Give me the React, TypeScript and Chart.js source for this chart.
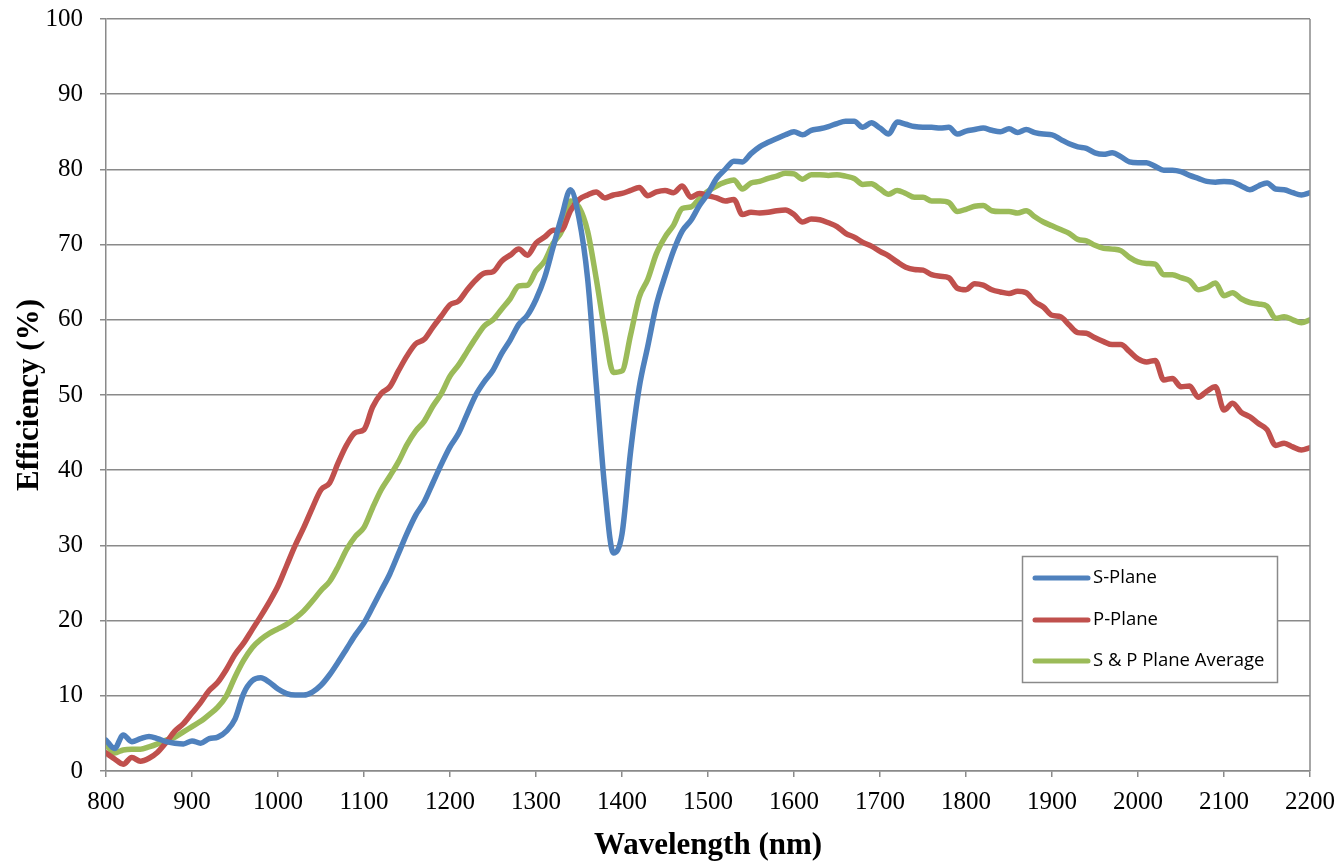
import React, { useEffect, useRef } from "react";
import { Chart, registerables } from "chart.js";

Chart.register(...registerables);

const wavelengths: number[] = [];
for (let w = 800; w <= 2200; w += 10) wavelengths.push(w);

const sPlane = [
  4.1, 3.0, 4.8, 3.9, 4.3, 4.6, 4.3, 3.9, 3.7, 3.6,
  4.0, 3.7, 4.3, 4.5, 5.3, 6.9, 10.3, 12.0, 12.4, 11.8,
  10.9, 10.3, 10.1, 10.1, 10.5, 11.4, 12.8, 14.5, 16.3, 18.1,
  19.7, 21.8, 24.0, 26.2, 28.9, 31.6, 34.0, 35.8, 38.3, 40.8,
  43.1, 44.9, 47.5, 50.0, 51.8, 53.3, 55.5, 57.3, 59.4, 60.6,
  62.7, 65.6, 69.7, 73.8, 77.3, 73.5, 65.5, 51.5, 37.5, 29.0,
  31.5, 42.5, 51.0, 56.5, 62.0, 65.8, 69.2, 71.8, 73.2, 75.2,
  76.8, 78.8, 80.0, 81.1, 81.0, 82.1, 83.0, 83.6, 84.1, 84.6,
  85.0, 84.6, 85.2, 85.4, 85.7, 86.1, 86.4, 86.4, 85.6, 86.2,
  85.5, 84.7, 86.3, 86.0, 85.7, 85.6, 85.6, 85.5, 85.6, 84.7,
  85.1, 85.3, 85.5, 85.2, 85.0, 85.4, 84.9, 85.3, 84.9, 84.7,
  84.6, 84.0, 83.4, 83.0, 82.8, 82.2, 82.0, 82.2, 81.7, 81.0,
  80.9, 80.9, 80.4, 79.9, 79.9, 79.7, 79.2, 78.8, 78.4, 78.3,
  78.4, 78.3, 77.8, 77.3, 77.8, 78.2, 77.4, 77.3, 76.9, 76.6,
  76.9,
];

const pPlane = [
  2.4, 1.6, 0.9, 1.8, 1.3, 1.7, 2.5, 3.8, 5.3, 6.3,
  7.7, 9.1, 10.7, 11.8, 13.5, 15.5, 17.0, 18.8, 20.6, 22.5,
  24.6, 27.3, 30.0, 32.4, 35.0, 37.4, 38.3, 41.0, 43.4, 45.0,
  45.4, 48.4, 50.2, 51.1, 53.2, 55.2, 56.8, 57.4, 59.0, 60.5,
  62.0, 62.5, 64.0, 65.3, 66.2, 66.4, 67.8, 68.6, 69.4, 68.6,
  70.2, 71.0, 71.9, 72.0, 74.5, 76.0, 76.6, 77.0, 76.2, 76.6,
  76.8, 77.2, 77.6, 76.5, 77.0, 77.2, 76.9, 77.8, 76.3, 76.8,
  76.5, 76.2, 75.8, 76.0, 74.0, 74.3, 74.2, 74.3, 74.5, 74.6,
  74.0, 73.0, 73.4, 73.3, 72.9, 72.4, 71.5, 71.0, 70.3, 69.8,
  69.1, 68.5, 67.7, 67.0, 66.7, 66.6, 66.0, 65.8, 65.6, 64.2,
  64.0, 64.8, 64.6, 64.0, 63.7, 63.5, 63.8, 63.6, 62.4, 61.7,
  60.6, 60.4, 59.3, 58.3, 58.2, 57.6, 57.1, 56.7, 56.7, 55.8,
  54.8, 54.4, 54.6, 52.0, 52.2, 51.1, 51.2, 49.7, 50.5, 51.1,
  48.0, 48.9, 47.7, 47.1, 46.2, 45.4, 43.3, 43.6, 43.1, 42.7,
  43.0,
];

const spAverage = [
  3.5, 2.4, 2.8, 2.9, 2.9, 3.2, 3.6, 4.1, 4.5, 5.2,
  5.9, 6.6, 7.5, 8.5, 10.0, 12.5, 14.7, 16.4, 17.5, 18.3,
  18.9, 19.5, 20.3, 21.3, 22.6, 24.0, 25.2, 27.2, 29.5, 31.2,
  32.4, 35.0, 37.4, 39.2, 41.1, 43.4, 45.2, 46.5, 48.5, 50.2,
  52.5, 54.0, 55.8, 57.6, 59.2, 60.0, 61.4, 62.8, 64.5, 64.6,
  66.5, 67.8, 70.2, 71.8, 75.8, 75.0, 71.8, 65.5, 58.5, 53.0,
  53.2, 58.0, 63.0, 65.4, 68.8, 71.0, 72.6, 74.8, 75.0, 76.1,
  77.1, 77.8, 78.3, 78.6, 77.4, 78.2, 78.4, 78.8, 79.1, 79.5,
  79.4, 78.7, 79.3, 79.3, 79.2, 79.3, 79.1, 78.8, 78.0, 78.1,
  77.4, 76.7, 77.2, 76.8, 76.3, 76.3, 75.8, 75.8, 75.6, 74.4,
  74.7, 75.1, 75.2, 74.5, 74.4, 74.4, 74.2, 74.5, 73.7, 73.0,
  72.5, 72.0, 71.5, 70.7, 70.5, 69.9, 69.5, 69.4, 69.2, 68.3,
  67.7, 67.5, 67.4, 66.0, 66.0, 65.6, 65.2, 64.0, 64.3, 64.9,
  63.2, 63.6, 62.8, 62.3, 62.1, 61.8, 60.2, 60.4, 60.0, 59.6,
  60.0,
];

const seriesNames = ["S-Plane", "P-Plane", "S & P Plane Average"];
const seriesColors = ["#4F81BD", "#C0504D", "#9BBB59"];

const GRID = "#8a8a8a";
const SERIF = "'Liberation Serif', 'Times New Roman', serif";
const SANS = "'Open Sans', 'Liberation Sans', sans-serif";

const frameAndLegend = {
  id: "frameAndLegend",
  afterDraw(chart: any) {
    const { ctx, chartArea } = chart;
    ctx.save();
    ctx.strokeStyle = GRID;
    ctx.lineWidth = 1.5;
    ctx.beginPath();
    ctx.moveTo(chartArea.right, chartArea.top);
    ctx.lineTo(chartArea.right, chartArea.bottom);
    ctx.stroke();

    // legend box
    const bx = 1022.5, by = 556.5, bw = 255, bh = 126;
    ctx.fillStyle = "#ffffff";
    ctx.fillRect(bx, by, bw, bh);
    ctx.strokeStyle = GRID;
    ctx.lineWidth = 1.5;
    ctx.strokeRect(bx, by, bw, bh);
    const rows = [578, 620, 661];
    ctx.font = `18.5px ${SANS}`;
    ctx.textBaseline = "middle";
    ctx.textAlign = "left";
    rows.forEach((y, i) => {
      ctx.strokeStyle = seriesColors[i];
      ctx.lineWidth = 5;
      ctx.lineCap = "round";
      ctx.beginPath();
      ctx.moveTo(1035, y);
      ctx.lineTo(1088, y);
      ctx.stroke();
      ctx.fillStyle = "#000000";
      ctx.fillText(seriesNames[i], 1093, y);
    });
    ctx.restore();
  },
};

export default function App() {
  const ref = useRef<HTMLCanvasElement | null>(null);
  useEffect(() => {
    if (!ref.current) return;
    const seriesData = [sPlane, pPlane, spAverage];
    const chart = new Chart(ref.current, {
      type: "line",
      data: {
        datasets: seriesData.map((arr, i) => ({
          label: seriesNames[i],
          data: wavelengths.map((w, j) => ({ x: w, y: arr[j] })),
          borderColor: seriesColors[i],
          backgroundColor: seriesColors[i],
          borderWidth: 5.5,
          pointRadius: 0,
          tension: 0.4,
          cubicInterpolationMode: "monotone" as const,
          fill: false,
          borderCapStyle: "round" as const,
          borderJoinStyle: "round" as const,
        })),
      },
      options: {
        animation: false,
        responsive: true,
        maintainAspectRatio: false,
        layout: { padding: { left: 0, right: 33, top: 19, bottom: 0 } },
        plugins: {
          legend: { display: false },
          tooltip: { enabled: false },
        },
        scales: {
          x: {
            type: "linear",
            min: 800,
            max: 2200,
            afterFit: (s: any) => {
              s.height = 94;
              s.paddingLeft = 0;
              s.paddingRight = 0;
            },
            ticks: {
              stepSize: 100,
              color: "#000",
              font: { family: SERIF, size: 25 },
              padding: 10,
              maxRotation: 0,
              autoSkip: false,
              callback: (v: any) => String(v),
            },
            grid: {
              drawOnChartArea: false,
              drawTicks: true,
              tickLength: 6,
              color: GRID,
              lineWidth: 1.5,
            },
            border: { color: GRID, width: 1.5 },
            title: {
              display: true,
              text: "Wavelength (nm)",
              color: "#000",
              font: { family: SERIF, size: 31, weight: "bold", lineHeight: 1.2 },
              padding: { top: 1, bottom: 0 },
            },
          },
          y: {
            min: 0,
            max: 100,
            afterFit: (s: any) => {
              s.width = 106;
              s.paddingTop = 0;
              s.paddingBottom = 0;
            },
            ticks: {
              stepSize: 10,
              color: "#000",
              font: { family: SERIF, size: 25 },
              padding: 17,
            },
            grid: {
              drawTicks: true,
              tickLength: 6,
              color: GRID,
              lineWidth: 1.5,
            },
            border: { color: GRID, width: 1.5 },
            title: {
              display: true,
              text: "Efficiency (%)",
              color: "#000",
              font: { family: SERIF, size: 31, weight: "bold", lineHeight: 1.2 },
              padding: { top: 11, bottom: 0 },
            },
          },
        },
      },
      plugins: [frameAndLegend],
    });
    return () => chart.destroy();
  }, []);

  return (
    <div style={{ position: "absolute", left: 0, top: 0, width: 1343, height: 865, background: "#fff" }}>
      <canvas ref={ref} />
    </div>
  );
}
